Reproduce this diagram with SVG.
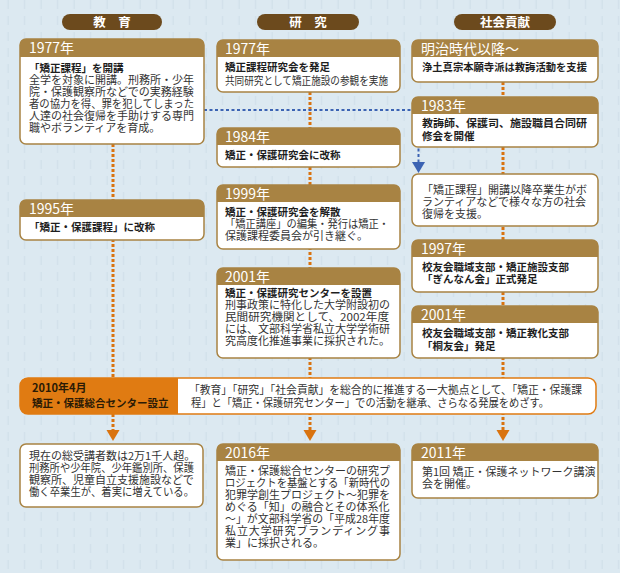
<svg xmlns="http://www.w3.org/2000/svg" width="620" height="573" viewBox="0 0 620 573">
<defs>
<pattern id="grid" width="16.5" height="16" patternUnits="userSpaceOnUse">
<line x1="8" y1="0" x2="8" y2="9" stroke="#c8d9e4" stroke-width="1" opacity="0.7"/>
</pattern>
<style>
text{font-family:"Noto Sans CJK JP","Noto Sans CJK SC",sans-serif}
.pill{fill:#6c4a1d}
.pt{fill:#fff;font-size:12.5px;font-weight:bold;text-anchor:middle}
.box{fill:#fff;stroke:#a88343;stroke-width:1.5}
.hd{fill:#a88343}
.yr{fill:#fff;font-size:14px}
.t{fill:#333;font-size:11px}
.b{fill:#1e1e1e;font-size:10.5px;font-weight:bold}
.dot{stroke:#d9730f;stroke-width:3;stroke-dasharray:3 2;fill:none}
.blue{stroke:#3b63b3;stroke-width:2;stroke-dasharray:3 2.5;fill:none}
.arr{fill:#d9730f}
</style>
</defs>
<rect width="620" height="573" fill="#dce9f1"/>
<rect width="620" height="573" fill="url(#grid)"/>

<g id="headers">
<g id="h-edu"><rect class="pill" x="62" y="14" width="100" height="16" rx="8"/><text class="pt" x="112" y="26.5">教　育</text></g>
<g id="h-res"><rect class="pill" x="257" y="14" width="102" height="16" rx="8"/><text class="pt" x="308" y="26.5">研　究</text></g>
<g id="h-soc"><rect class="pill" x="454" y="14" width="102" height="16" rx="8"/><text class="pt" x="505" y="26.5">社会貢献</text></g>
</g>

<g id="connectors">
<line class="dot" x1="113" y1="144" x2="113" y2="431"/>
<line class="dot" x1="310" y1="92" x2="310" y2="431"/>
<line class="dot" x1="503" y1="82" x2="503" y2="431"/>
<path class="blue" d="M204,110 H418.5 V163"/>
<polygon fill="#3b63b3" points="412,162 425,162 418.5,173"/>
<polygon class="arr" points="106.5,430 119.5,430 113,441"/>
<polygon class="arr" points="303.5,430 316.5,430 310,441"/>
<polygon class="arr" points="496.5,430 509.5,430 503,441"/>
</g>

<g id="edu-1977">
<rect class="box" x="20" y="39" width="184" height="105" rx="6"/>
<path class="hd" d="M20,57 V45 Q20,39 26,39 H198 Q204,39 204,45 V57 Z"/>
<text class="yr" x="29" y="53">1977年</text>
<text class="t"><tspan class="b" x="29" y="72">「矯正課程」を開講</tspan><tspan x="29" y="84">全学を対象に開講。刑務所・少年</tspan><tspan x="29" y="96">院・保護観察所などでの実務経験</tspan><tspan x="29" y="108" textLength="165" lengthAdjust="spacingAndGlyphs">者の協力を得、罪を犯してしまった</tspan><tspan x="29" y="120">人達の社会復帰を手助けする専門</tspan><tspan x="29" y="132">職やボランティアを育成。</tspan></text>
</g>

<g id="edu-1995">
<rect class="box" x="20" y="200" width="184" height="40" rx="6"/>
<path class="hd" d="M20,217 V206 Q20,200 26,200 H198 Q204,200 204,206 V217 Z"/>
<text class="yr" x="29" y="214">1995年</text>
<text class="b" x="29" y="231">「矯正・保護課程」に改称</text>
</g>

<g id="res-1977">
<rect class="box" x="217" y="40" width="183" height="52" rx="6"/>
<path class="hd" d="M217,57 V46 Q217,40 223,40 H394 Q400,40 400,46 V57 Z"/>
<text class="yr" x="225" y="54">1977年</text>
<text class="t"><tspan class="b" x="225" y="71">矯正課程研究会を発足</tspan><tspan x="225" y="85" textLength="163" lengthAdjust="spacingAndGlyphs">共同研究として矯正施設の参観を実施</tspan></text>
</g>

<g id="res-1984">
<rect class="box" x="217" y="128" width="183" height="39" rx="6"/>
<path class="hd" d="M217,145 V134 Q217,128 223,128 H394 Q400,128 400,134 V145 Z"/>
<text class="yr" x="225" y="142">1984年</text>
<text class="b" x="225" y="159">矯正・保護研究会に改称</text>
</g>

<g id="res-1999">
<rect class="box" x="217" y="185" width="183" height="64" rx="6"/>
<path class="hd" d="M217,202 V191 Q217,185 223,185 H394 Q400,185 400,191 V202 Z"/>
<text class="yr" x="225" y="199">1999年</text>
<text class="t"><tspan class="b" x="225" y="216">矯正・保護研究会を解散</tspan><tspan x="225" y="228" textLength="164" lengthAdjust="spacingAndGlyphs">「矯正講座」の編集・発行は矯正・</tspan><tspan x="225" y="240">保護課程委員会が引き継ぐ。</tspan></text>
</g>

<g id="res-2001">
<rect class="box" x="217" y="268" width="183" height="90" rx="6"/>
<path class="hd" d="M217,285 V274 Q217,268 223,268 H394 Q400,268 400,274 V285 Z"/>
<text class="yr" x="225" y="282">2001年</text>
<text class="t"><tspan class="b" x="225" y="297">矯正・保護研究センターを設置</tspan><tspan x="225" y="309">刑事政策に特化した大学附設初の</tspan><tspan x="225" y="321" textLength="164" lengthAdjust="spacingAndGlyphs">民間研究機関として、2002年度</tspan><tspan x="225" y="333">には、文部科学省私立大学学術研</tspan><tspan x="225" y="345">究高度化推進事業に採択された。</tspan></text>
</g>

<g id="soc-meiji">
<rect class="box" x="412" y="40" width="186" height="42" rx="6"/>
<path class="hd" d="M412,57 V46 Q412,40 418,40 H592 Q598,40 598,46 V57 Z"/>
<text class="yr" x="421" y="54">明治時代以降〜</text>
<text class="b" x="422" y="71" textLength="165" lengthAdjust="spacingAndGlyphs">浄土真宗本願寺派は教誨活動を支援</text>
</g>

<g id="soc-1983">
<rect class="box" x="412" y="97" width="186" height="50" rx="6"/>
<path class="hd" d="M412,114 V103 Q412,97 418,97 H592 Q598,97 598,103 V114 Z"/>
<text class="yr" x="421" y="111">1983年</text>
<text class="b"><tspan x="422" y="127" textLength="165" lengthAdjust="spacingAndGlyphs">教誨師、保護司、施設職員合同研</tspan><tspan x="422" y="140">修会を開催</tspan></text>
</g>

<g id="soc-grad">
<rect class="box" x="412" y="174" width="186" height="52" rx="6"/>
<text class="t"><tspan x="422" y="194">「矯正課程」開講以降卒業生がボ</tspan><tspan x="422" y="206">ランティアなどで様々な方の社会</tspan><tspan x="422" y="218">復帰を支援。</tspan></text>
</g>

<g id="soc-1997">
<rect class="box" x="412" y="240" width="186" height="52" rx="6"/>
<path class="hd" d="M412,257 V246 Q412,240 418,240 H592 Q598,240 598,246 V257 Z"/>
<text class="yr" x="421" y="254">1997年</text>
<text class="b"><tspan x="422" y="271">校友会職域支部・矯正施設支部</tspan><tspan x="422" y="283">「ぎんなん会」正式発足</tspan></text>
</g>

<g id="soc-2001">
<rect class="box" x="412" y="306" width="186" height="52" rx="6"/>
<path class="hd" d="M412,323 V312 Q412,306 418,306 H592 Q598,306 598,312 V323 Z"/>
<text class="yr" x="421" y="320">2001年</text>
<text class="b"><tspan x="422" y="337">校友会職域支部・矯正教化支部</tspan><tspan x="422" y="350">「桐友会」発足</tspan></text>
</g>

<g id="center-2010">
<rect x="20" y="378" width="576" height="36" rx="8" fill="#fff" stroke="#e07b12" stroke-width="1.5"/>
<path d="M178,378 H28 Q20,378 20,386 V406 Q20,414 28,414 H178 Z" fill="#e07b12"/>
<text fill="#2a1a05" font-weight="bold"><tspan x="32" y="392" font-size="11">2010年4月</tspan><tspan x="32" y="407" font-size="10.5">矯正・保護総合センター設立</tspan></text>
<text class="t"><tspan x="189" y="394" textLength="393" lengthAdjust="spacingAndGlyphs">「教育」「研究」「社会貢献」を総合的に推進する一大拠点として、「矯正・保護課</tspan><tspan x="191" y="407" textLength="358" lengthAdjust="spacingAndGlyphs">程」と「矯正・保護研究センター」での活動を継承、さらなる発展をめざす。</tspan></text>
</g>

<g id="edu-now">
<rect class="box" x="20" y="444" width="183" height="63" rx="6"/>
<text class="t"><tspan x="29" y="460">現在の総受講者数は2万1千人超。</tspan><tspan x="29" y="472" textLength="165" lengthAdjust="spacingAndGlyphs">刑務所や少年院、少年鑑別所、保護</tspan><tspan x="29" y="484">観察所、児童自立支援施設などで</tspan><tspan x="29" y="496" textLength="165" lengthAdjust="spacingAndGlyphs">働く卒業生が、着実に増えている。</tspan></text>
</g>

<g id="res-2016">
<rect class="box" x="217" y="444" width="183" height="116" rx="6"/>
<path class="hd" d="M217,461 V450 Q217,444 223,444 H394 Q400,444 400,450 V461 Z"/>
<text class="yr" x="225" y="458">2016年</text>
<text class="t"><tspan x="225" y="475">矯正・保護総合センターの研究プ</tspan><tspan x="225" y="487" textLength="165" lengthAdjust="spacingAndGlyphs">ロジェクトを基盤とする「新時代の</tspan><tspan x="225" y="499">犯罪学創生プロジェクト〜犯罪を</tspan><tspan x="225" y="511">めぐる「知」の融合とその体系化</tspan><tspan x="225" y="523" textLength="165" lengthAdjust="spacingAndGlyphs">〜」が文部科学省の「平成28年度</tspan><tspan x="225" y="535" textLength="165" lengthAdjust="spacing">私立大学研究ブランディング事</tspan><tspan x="225" y="547">業」に採択される。</tspan></text>
</g>

<g id="soc-2011">
<rect class="box" x="412" y="444" width="186" height="54" rx="6"/>
<path class="hd" d="M412,461 V450 Q412,444 418,444 H592 Q598,444 598,450 V461 Z"/>
<text class="yr" x="421" y="458">2011年</text>
<text class="t"><tspan x="422" y="476">第1回 矯正・保護ネットワーク講演</tspan><tspan x="422" y="488">会を開催。</tspan></text>
</g>
</svg>
